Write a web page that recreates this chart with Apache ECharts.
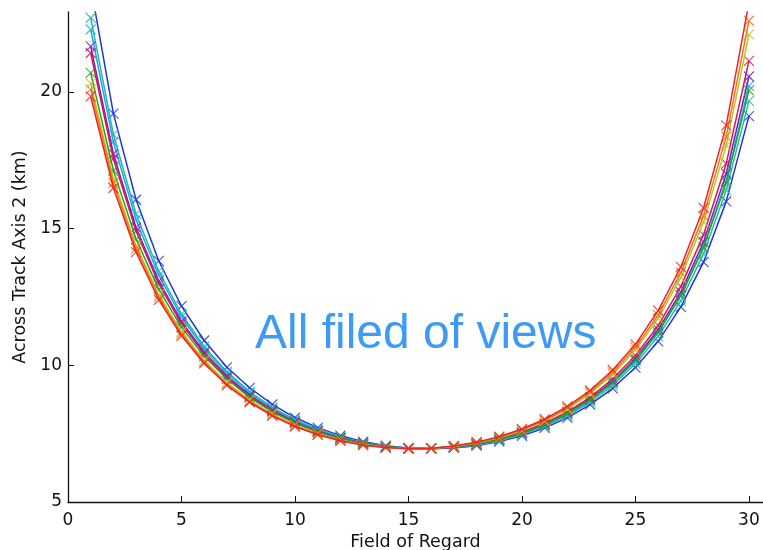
<!DOCTYPE html>
<html>
<head>
<meta charset="utf-8">
<script src="https://cdn.jsdelivr.net/npm/echarts@6/dist/echarts.min.js"></script>
<style>
body{margin:0;background:#fff}
#chart{width:763px;height:550px}
</style>
</head>
<body>
<div id="chart"></div>
<script>
// field of regard index (x axis)
var forNumbers = [1,2,3,4,5,6,7,8,9,10,11,12,13,14,15,16,17,18,19,20,21,22,23,24,25,26,27,28,29,30];
var xTicks = [0,5,10,15,20,25,30];
var yTicks = [5,10,15,20];

// across track size per FOV (km)
var fovBlue    = [23.88,19.21,16.06,13.82,12.17,10.91,9.93,9.18,8.57,8.09,7.72,7.43,7.21,7.06,6.98,6.95,6.98,7.06,7.21,7.42,7.71,8.08,8.56,9.16,9.92,10.88,12.14,13.78,16.00,19.12];
var fovTeal    = [22.72,18.45,15.54,13.44,11.88,10.69,9.77,9.04,8.46,8.01,7.66,7.38,7.18,7.05,6.97,6.95,6.99,7.08,7.24,7.47,7.76,8.15,8.65,9.27,10.06,11.06,12.36,14.08,16.41,19.68];
var fovCyan    = [22.29,18.17,15.33,13.29,11.77,10.60,9.70,8.98,8.42,7.97,7.62,7.36,7.17,7.03,6.96,6.95,7.00,7.10,7.27,7.50,7.80,8.20,8.72,9.35,10.16,11.20,12.55,14.33,16.76,20.23];
var fovPurple  = [21.67,17.74,15.04,13.08,11.61,10.48,9.61,8.91,8.36,7.93,7.59,7.34,7.15,7.02,6.96,6.95,7.00,7.11,7.29,7.52,7.84,8.25,8.77,9.42,10.25,11.31,12.68,14.51,17.01,20.57];
var fovCrimson = [21.43,17.56,14.91,12.98,11.53,10.41,9.55,8.86,8.33,7.90,7.57,7.32,7.14,7.02,6.96,6.96,7.01,7.13,7.31,7.55,7.88,8.30,8.83,9.51,10.36,11.45,12.88,14.78,17.38,21.14];
var fovGreen   = [20.70,17.13,14.62,12.78,11.40,10.33,9.50,8.83,8.30,7.89,7.56,7.32,7.14,7.02,6.96,6.96,7.01,7.12,7.29,7.52,7.83,8.24,8.74,9.38,10.19,11.22,12.55,14.31,16.68,20.06];
var fovYellow  = [20.32,16.82,14.38,12.59,11.23,10.19,9.37,8.73,8.22,7.81,7.50,7.27,7.10,7.00,6.95,6.96,7.03,7.16,7.35,7.61,7.96,8.40,8.96,9.67,10.56,11.72,13.22,15.24,18.04,22.11];
var fovOrange  = [20.10,16.67,14.27,12.50,11.16,10.13,9.32,8.69,8.19,7.79,7.48,7.26,7.09,6.99,6.95,6.97,7.04,7.18,7.37,7.64,7.99,8.44,9.02,9.74,10.66,11.84,13.39,15.47,18.37,22.61];
var fovRed     = [19.84,16.49,14.14,12.40,11.08,10.07,9.27,8.65,8.15,7.76,7.46,7.24,7.08,6.99,6.95,6.97,7.05,7.19,7.39,7.67,8.03,8.50,9.08,9.83,10.77,12.00,13.60,15.76,18.78,23.27];

var fovNames = ["FOV 1","FOV 2","FOV 3","FOV 4","FOV 5","FOV 6","FOV 7","FOV 8","FOV 9"];
var fovValues = [fovBlue,fovTeal,fovCyan,fovPurple,fovCrimson,fovGreen,fovYellow,fovOrange,fovRed];
var fovColors = ["#2233dd","#22bba6","#22a8e0","#6a22cc","#dd1158","#27a127","#b5c922","#f2761c","#f02222"];

var dom = document.getElementById("chart");
var myChart = echarts.init(dom);
var font = "DejaVu Sans";

var seriesList = [];
var $each = function(arr,fn){ for(var i=0;i<arr.length;i++){ fn(i,arr[i]); } };
$each(fovValues,function(i,vals){
	seriesList.push({
		name: fovNames[i],
		type: 'line',
		data: forNumbers.map(function(x,j){ return [x, vals[j]]; }),
		symbol: 'path://M0,0L10,10M0,10L10,0',
		symbolSize: 10,
		showAllSymbol: true,
		lineStyle: { color: fovColors[i], width: 1.5 },
		itemStyle: { color: fovColors[i], borderColor: fovColors[i], borderWidth: 1.1, opacity: 0.85 },
		clip: true,
		z: 2 + i
	});
});

var option = {
	animation: false,
	backgroundColor: '#fff',
	grid: { left: 68, right: 0, top: 12, bottom: 48, outerBoundsMode: 'none', containLabel: false },
	xAxis: {
		type: 'value',
		min: 0,
		max: 30.62,
		interval: 5,
		name: 'Field of Regard',
		nameLocation: 'middle',
		nameGap: 29,
		nameTextStyle: { fontFamily: font, fontSize: 17.5, color: '#111' },
		axisLine: { lineStyle: { color: '#111', width: 1.3 } },
		axisTick: { inside: true, length: 6, customValues: xTicks, lineStyle: { color: '#111' } },
		axisLabel: { customValues: xTicks, fontFamily: font, fontSize: 17, color: '#111', margin: 10 },
		splitLine: { show: false }
	},
	yAxis: {
		type: 'value',
		min: 5,
		max: 22.93,
		interval: 5,
		name: 'Across Track Axis 2 (km)',
		nameLocation: 'middle',
		nameGap: 33,
		nameTextStyle: { fontFamily: font, fontSize: 17.5, color: '#111' },
		axisLine: { show: true, lineStyle: { color: '#111', width: 1.3 } },
		axisTick: { show: true, inside: true, length: 6, customValues: yTicks, lineStyle: { color: '#111' } },
		axisLabel: { customValues: yTicks, fontFamily: font, fontSize: 17, color: '#111', margin: 6 },
		splitLine: { show: false }
	},
	graphic: [{
		type: 'text',
		left: 255,
		top: 311,
		style: { text: 'All filed of views', fill: '#3d9bf5', font: '48px "Liberation Sans"' }
	}],
	series: seriesList
};
myChart.setOption(option);
</script>
</body>
</html>
